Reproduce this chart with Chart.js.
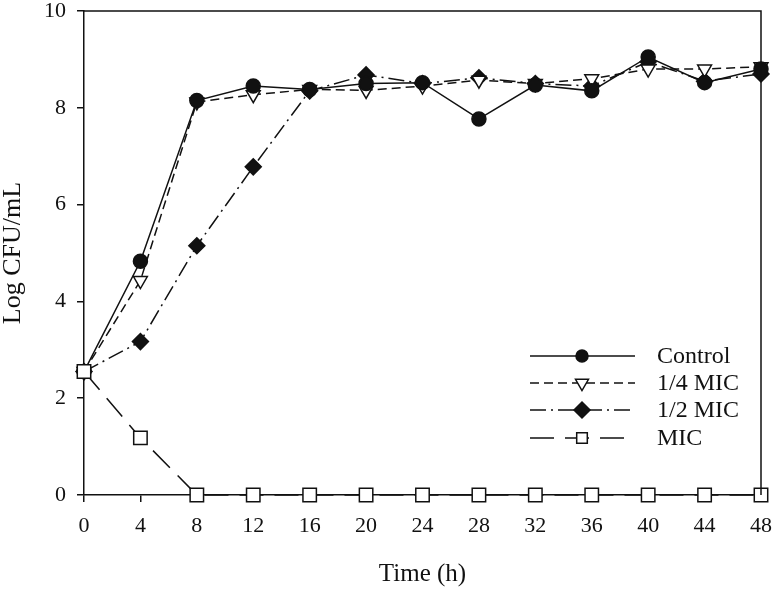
<!DOCTYPE html>
<html>
<head>
<meta charset="utf-8">
<script src="https://cdn.jsdelivr.net/npm/chart.js@4.4.0/dist/chart.umd.min.js"></script>
<style>
  html, body { margin: 0; padding: 0; background: #fff; }
  #wrap { width: 774px; height: 589px; }
</style>
</head>
<body>
<div id="wrap"><canvas id="graph"></canvas></div>
<script>
// time points (h)
const hours = [0, 4, 8, 12, 16, 20, 24, 28, 32, 36, 40, 44, 48];

// Log CFU/mL per series
const control = [2.55, 4.83, 8.15, 8.45, 8.38, 8.5, 8.52, 7.77, 8.47, 8.35, 9.05, 8.52, 8.8];
const quarterMic = [2.55, 4.43, 8.12, 8.27, 8.38, 8.36, 8.45, 8.57, 8.5, 8.6, 8.8, 8.8, 8.85];
const halfMic = [2.55, 3.17, 5.15, 6.78, 8.35, 8.68, 8.5, 8.62, 8.5, 8.45, 8.95, 8.55, 8.7];
const mic = [2.55, 1.18, 0, 0, 0, 0, 0, 0, 0, 0, 0, 0, 0];

const labels = ['Control', '1/4 MIC', '1/2 MIC', 'MIC'];
const yTicks = [0, 2, 4, 6, 8, 10];

const serif = "'Liberation Serif', 'DejaVu Serif', serif";
const ink = '#111';

function pts(vals) {
    return hours.map((h, i) => ({ x: h, y: vals[i] }));
}

// r = marker radius in the plot, lr = radius in the legend
const styles = [
    { dash: [], point: 'circle', fill: ink, r: 7, lr: 6, rot: 0 },
    { dash: [9, 5], point: 'triangle', fill: '#fff', r: 8, lr: 7.5, rot: 180 },
    { dash: [16, 5, 2, 5], point: 'rectRot', fill: ink, r: 8, lr: 8, rot: 0 },
    { dash: [24, 11], point: 'rect', fill: '#fff', r: 9.5, lr: 7.5, rot: 0 }
];

const series = [control, quarterMic, halfMic, mic];

const datasets = series.map((vals, i) => ({
    label: labels[i],
    data: pts(vals),
    borderColor: ink,
    borderWidth: 1.5,
    borderDash: styles[i].dash,
    pointStyle: styles[i].point,
    pointRadius: styles[i].r,
    pointRotation: styles[i].rot,
    pointBackgroundColor: styles[i].fill,
    pointBorderColor: ink,
    pointBorderWidth: 1.5,
    tension: 0,
    clip: false,
    order: i === 3 ? -1 : i
}));

// box around the plot + legend drawn by hand (line sample, marker, text)
const extras = {
    id: 'extras',
    afterDraw(chart) {
        const ctx = chart.ctx;
        const a = chart.chartArea;
        ctx.save();
        ctx.strokeStyle = ink;
        ctx.lineWidth = 1.5;
        ctx.setLineDash([]);
        ctx.beginPath();
        ctx.moveTo(a.left, a.top);
        ctx.lineTo(a.right, a.top);
        ctx.lineTo(a.right, a.bottom);
        ctx.stroke();

        const x0 = 530, x1 = 635, xm = 582, xt = 657;
        const rows = [356, 383, 410, 438];
        rows.forEach((y, i) => {
            const s = styles[i];
            ctx.setLineDash(s.dash);
            ctx.lineWidth = 1.5;
            ctx.strokeStyle = ink;
            ctx.beginPath();
            ctx.moveTo(x0, y);
            ctx.lineTo(x1, y);
            ctx.stroke();
            ctx.setLineDash([]);
            ctx.fillStyle = s.fill;
            Chart.helpers.drawPoint(ctx, {
                pointStyle: s.point, rotation: s.rot, radius: s.lr, borderWidth: 1.5
            }, xm, y);
            ctx.fillStyle = ink;
            ctx.font = '24px ' + serif;
            ctx.textBaseline = 'middle';
            ctx.fillText(labels[i], xt, y + 1);
        });
        ctx.restore();
    }
};

new Chart(document.getElementById('graph'), {
    type: 'line',
    data: { datasets: datasets },
    options: {
        responsive: true,
        maintainAspectRatio: false,
        animation: false,
        layout: { padding: { top: 10, right: 13, left: 0, bottom: 0 } },
        plugins: {
            legend: { display: false },
            tooltip: { enabled: false }
        },
        scales: {
            x: {
                type: 'linear',
                min: 0,
                max: 48,
                ticks: { stepSize: 4, color: ink, font: { family: serif, size: 22 }, padding: 11 },
                grid: { drawOnChartArea: false, drawTicks: true, tickLength: 7, color: ink, lineWidth: 1.5 },
                border: { display: true, color: ink, width: 1.5 },
                title: { display: true, text: 'Time (h)', color: ink, font: { family: serif, size: 25, lineHeight: 1.2 }, padding: { top: 0, bottom: 0 } },
                afterFit(scale) {
                    scale.height = 94;
                    scale.paddingLeft = 0;
                    scale.paddingRight = 0;
                }
            },
            y: {
                min: 0,
                max: 10,
                afterBuildTicks(scale) { scale.ticks = yTicks.map(v => ({ value: v })); },
                ticks: { color: ink, font: { family: serif, size: 22 }, padding: 11 },
                grid: { drawOnChartArea: false, drawTicks: true, tickLength: 7, color: ink, lineWidth: 1.5 },
                border: { display: true, color: ink, width: 1.5 },
                title: { display: true, text: 'Log CFU/mL', color: ink, font: { family: serif, size: 26, lineHeight: 1 }, padding: { top: 0, bottom: 0 } },
                afterFit(scale) {
                    scale.width = 84;
                    scale.paddingTop = 0;
                    scale.paddingBottom = 0;
                }
            }
        }
    },
    plugins: [extras]
});
</script>
</body>
</html>
